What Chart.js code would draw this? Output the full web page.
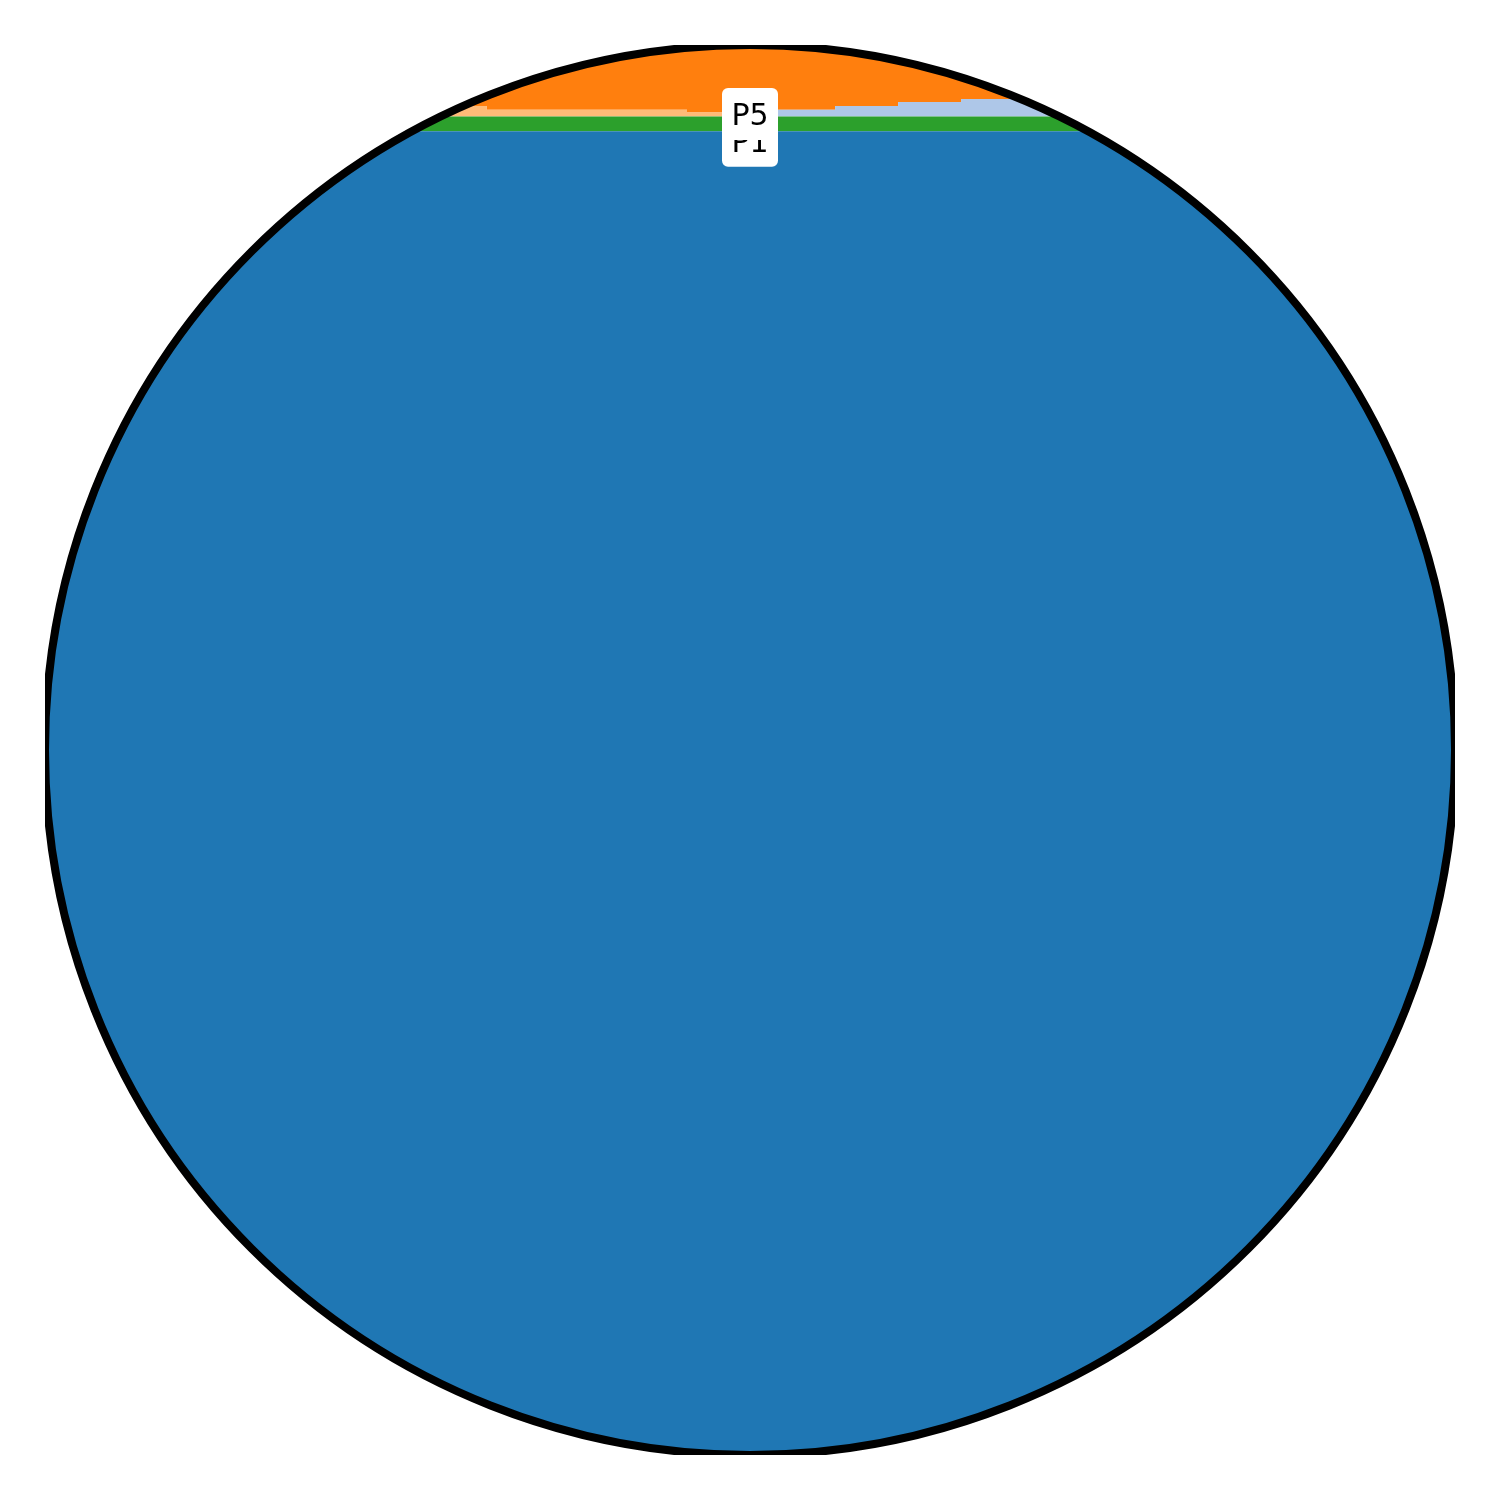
<!DOCTYPE html>
<html><head><meta charset="utf-8">
<script src="https://cdn.jsdelivr.net/npm/chart.js@4.4.0/dist/chart.umd.min.js"></script>
<style>html,body{margin:0;padding:0;background:#fff}#wrap{width:1500px;height:1500px}</style>
</head><body><div id="wrap"><canvas id="c" width="1500" height="1500"></canvas></div>
<script>
// x positions where each step begins (last point closes the final step)
const xSteps = [0, 31.29, 45.52, 50, 56.05, 60.53, 65.01, 100];
// stacked shares, bottom to top
const seriesP1 = [94.0, 94.0, 94.0, 94.0, 94.0, 94.0, 94.0, 94.0];
const seriesP2 = [1.05, 1.05, 1.05, 1.05, 1.05, 1.05, 1.05, 1.05];
const seriesP3 = [0.76, 0.48, 0.29, 0, 0, 0, 0, 0];
const seriesP4 = [0, 0, 0, 0.48, 0.76, 1.04, 1.25, 1.25];
const seriesP5 = [4.19, 4.47, 4.66, 4.47, 4.19, 3.91, 3.70, 3.70];
const seriesNames = ['P1', 'P2', 'P3', 'P4', 'P5'];
const seriesColors = ['#1f77b4', '#2ca02c', '#ffbb78', '#aec7e8', '#ff7f0e'];
// annotation labels
const labelNames = ['P1', 'P5'];
const labelX = [50, 50];
const labelY = [93.33, 95.23];

const allSeries = [seriesP1, seriesP2, seriesP3, seriesP4, seriesP5];
const datasets = allSeries.map((vals, i) => ({
  label: seriesNames[i],
  data: vals.map((v, j) => ({x: xSteps[j], y: v})),
  stepped: true,
  fill: i === 0 ? 'origin' : '-1',
  backgroundColor: seriesColors[i],
  borderColor: seriesColors[i],
  borderWidth: 0,
  pointRadius: 0,
  tension: 0
}));

const circlePlugin = {
  id: 'circleClip',
  beforeDatasetsDraw(chart) {
    const {ctx, chartArea: a} = chart;
    const cx = (a.left + a.right) / 2, cy = (a.top + a.bottom) / 2, r = (a.right - a.left) / 2;
    ctx.save();
    ctx.beginPath();
    ctx.arc(cx, cy, r, 0, Math.PI * 2);
    ctx.clip();
  },
  afterDatasetsDraw(chart) {
    const {ctx, chartArea: a} = chart;
    ctx.restore();
    const cx = (a.left + a.right) / 2, cy = (a.top + a.bottom) / 2, r = (a.right - a.left) / 2 + 2;
    ctx.save();
    ctx.beginPath();
    ctx.rect(a.left - 2, a.top - 2, a.right - a.left + 4, a.bottom - a.top + 4);
    ctx.clip();
    ctx.beginPath();
    ctx.arc(cx, cy, r, 0, Math.PI * 2);
    ctx.lineWidth = 8;
    ctx.strokeStyle = '#000';
    ctx.stroke();
    ctx.restore();
    // labels
    ctx.save();
    ctx.font = '30px "DejaVu Sans"';
    ctx.textAlign = 'center';
    ctx.textBaseline = 'alphabetic';
    labelNames.forEach((t, i) => {
      const px = chart.scales.x.getPixelForValue(labelX[i]);
      const py = chart.scales.y.getPixelForValue(labelY[i]);
      const w = 56, h = 52, rr = 6;
      ctx.beginPath();
      ctx.roundRect(px - w / 2, py - h / 2, w, h, rr);
      ctx.fillStyle = '#fff';
      ctx.fill();
      ctx.fillStyle = '#000';
      ctx.fillText(t, px, py + 10.9);
    });
    ctx.restore();
  }
};

new Chart(document.getElementById('c'), {
  type: 'line',
  data: {datasets},
  options: {
    responsive: false,
    animation: false,
    layout: {padding: 47},
    scales: {
      x: {type: 'linear', min: 0, max: 100, display: false},
      y: {stacked: true, min: 0, max: 100, display: false}
    },
    plugins: {legend: {display: false}, tooltip: {enabled: false}}
  },
  plugins: [circlePlugin]
});
</script>
</body></html>
